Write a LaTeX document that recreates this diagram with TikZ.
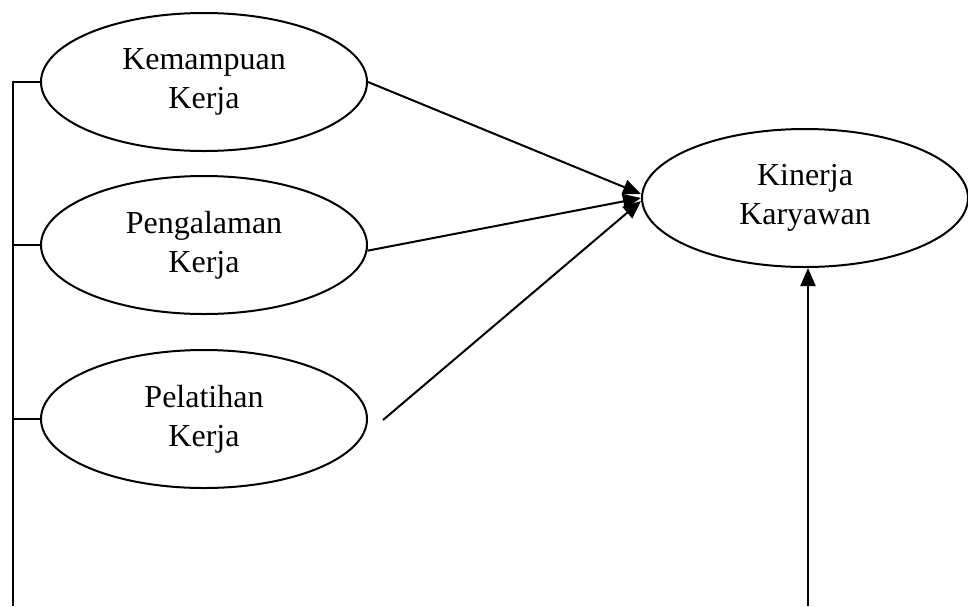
\documentclass[tikz,border=0pt]{standalone}
\usepackage{fontspec}
\setmainfont{Liberation Serif}
\usetikzlibrary{shapes.geometric,arrows.meta}
\begin{document}
\begin{tikzpicture}[x=0.5pt,y=-0.5pt,
  var/.style={draw,ellipse,line width=1pt,minimum width=163pt,minimum height=69pt,inner sep=0pt,align=center,font=\fontsize{16pt}{19.5pt}\selectfont},
  ln/.style={line width=1pt},
  arr/.style={line width=1pt,-{Triangle[length=9pt,width=7.5pt]}}]
\useasboundingbox (0,0) rectangle (968,606);
\node[var] (e1) at (204,82) {Kemampuan\\Kerja};
\node[var] (e2) at (204,245) {Pengalaman\\Kerja};
\node[var] (e3) at (204,419) {Pelatihan\\Kerja};
\node[var] (k) at (805,198) {Kinerja\\Karyawan};
\coordinate (lb) at (12.5,606);
\coordinate (s3) at (383,420);
\coordinate (bb) at (808,606);
\draw[ln] (e1.west) -| (lb);
\draw[ln] (e2.west) -- (e2.west -| lb);
\draw[ln] (e3.west) -- (e3.west -| lb);
\draw[arr] (e1.east) -- ([yshift=2pt]k.west);
\draw[arr] (e2.-2.5) -- (k.west);
\draw[arr] (s3) -- ([yshift=-1.5pt]k.west);
\draw[arr] (bb) -- (bb |- k.south);
\end{tikzpicture}
\end{document}
